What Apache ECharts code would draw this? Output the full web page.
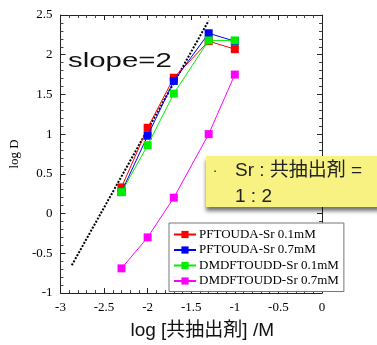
<!DOCTYPE html>
<html><head><meta charset="utf-8">
<script src="https://cdn.jsdelivr.net/npm/echarts@6/dist/echarts.min.js"></script>
<style>html,body{margin:0;padding:0;background:#fff}#c{width:377px;height:345px}</style>
</head><body><div id="c"></div>
<script>
const xValues = [-2.3, -2, -1.7, -1.3, -1];
const seriesNames = ['PFTOUDA-Sr 0.1mM', 'PFTOUDA-Sr 0.7mM', 'DMDFTOUDD-Sr 0.1mM', 'DMDFTOUDD-Sr 0.7mM'];
const pftouda01 = [0.33, 1.08, 1.71, 2.17, 2.07];
const pftouda07 = [0.27, 0.98, 1.67, 2.27, 2.17];
const dmdf01 = [0.27, 0.86, 1.51, 2.18, 2.18];
const dmdf07 = [-0.69, -0.30, 0.20, 1.00, 1.75];
const slopeX = [-2.87, -1.30];
const slopeY = [-0.65, 2.43];
const xTicks = { min: -3, max: 0, interval: 0.5 };
const yTicks = { min: -1, max: 2.5, interval: 0.5 };
const colors = ['#ff0000', '#0000ff', '#00ee00', '#ff00ff'];

const serif = 'Liberation Serif, Times New Roman, serif';
const sans = 'Liberation Sans, Noto Sans CJK JP, sans-serif';
const allData = [pftouda01, pftouda07, dmdf01, dmdf07];

const chart = echarts.init(document.getElementById('c'));
function axisCommon(showLabel) {
  return {
    axisLine: { show: true, onZero: false, lineStyle: { color: '#222', width: 1 } },
    axisTick: { show: true, inside: true, length: 5, lineStyle: { color: '#222' } },
    minorTick: { show: true, splitNumber: 5, length: 3, lineStyle: { color: '#444' } },
    splitLine: { show: false },
    axisLabel: { show: showLabel, color: '#000', fontFamily: serif, fontSize: 13, margin: 8, showMinLabel: true, showMaxLabel: true }
  };
}
const series = allData.map((d, i) => ({
  name: seriesNames[i], type: 'line', data: xValues.map((x, j) => [x, d[j]]),
  symbol: 'rect', symbolSize: 8, color: colors[i],
  lineStyle: { width: 1, color: colors[i] }, itemStyle: { color: colors[i] },
  animation: false, z: 3 + i
}));
series.unshift({
  type: 'line', data: slopeX.map((x, j) => [x, slopeY[j]]), symbol: 'none',
  lineStyle: { type: [2, 1.5], width: 2, color: '#000' }, animation: false, z: 2
});
chart.setOption({
  animation: false,
  grid: { left: 57, right: 55, top: 15, bottom: 50 },
  xAxis: [
    Object.assign({ type: 'value', min: xTicks.min, max: xTicks.max, interval: xTicks.interval, position: 'bottom',
      name: 'log [共抽出剤] /M', nameLocation: 'middle', nameGap: 28,
      nameTextStyle: { fontFamily: sans, fontSize: 19, color: '#111', padding: [0, 0, 0, 22] } }, axisCommon(true)),
    Object.assign({ type: 'value', min: xTicks.min, max: xTicks.max, interval: xTicks.interval, position: 'top' }, axisCommon(false))
  ],
  yAxis: [
    Object.assign({ type: 'value', min: yTicks.min, max: yTicks.max, interval: yTicks.interval, position: 'left',
      name: 'log D', nameLocation: 'middle', nameGap: 33, nameRotate: 90,
      nameTextStyle: { fontFamily: serif, fontSize: 13, color: '#000' } }, axisCommon(true)),
    Object.assign({ type: 'value', min: yTicks.min, max: yTicks.max, interval: yTicks.interval, position: 'right' }, axisCommon(false))
  ],
  legend: {
    data: seriesNames, orient: 'vertical', left: 169, top: 223,
    itemWidth: 22, itemHeight: 9, itemGap: 2.5,
    padding: [5, 5, 4, 4],
    backgroundColor: '#fff', borderColor: '#777', borderWidth: 1,
    textStyle: { fontFamily: serif, fontSize: 13, color: '#000', lineHeight: 13, padding: [0, 0, 0, -2] },
    z: 20
  },
  graphic: [
    { type: 'text', x: 68, y: 61, scaleX: 1.4, z: 50,
      style: { text: 'slope=2', fontFamily: sans, fontSize: 21, fill: '#111', textAlign: 'left', textVerticalAlign: 'middle' } },
    { type: 'rect', shape: { x: 206, y: 156, width: 175, height: 51 }, z: 60,
      style: { fill: '#f7f282', shadowBlur: 4, shadowOffsetY: 4, shadowOffsetX: 0, shadowColor: 'rgba(0,0,0,0.55)' } },
    { type: 'text', x: 215, y: 171, z: 61,
      style: { text: '·', fontFamily: sans, fontSize: 14, fill: '#222', textAlign: 'center', textVerticalAlign: 'middle' } },
    { type: 'text', x: 235, y: 171, z: 61,
      style: { text: 'Sr : 共抽出剤 =', fontFamily: sans, fontSize: 19, fill: '#222', textAlign: 'left', textVerticalAlign: 'middle' } },
    { type: 'text', x: 235, y: 197, z: 61,
      style: { text: '1 : 2', fontFamily: sans, fontSize: 19, fill: '#222', textAlign: 'left', textVerticalAlign: 'middle' } }
  ],
  series: series
});
</script></body></html>
